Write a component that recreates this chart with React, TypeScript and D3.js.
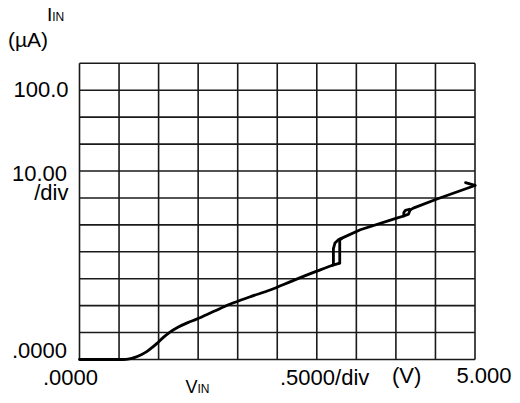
import React from "react";
import * as d3 from "d3";

// X: input voltage (V), Y: input current (µA)
const xTicks = [0, 0.5, 1, 1.5, 2, 2.5, 3, 3.5, 4, 4.5, 5];
const yTicks = [0, 10, 20, 30, 40, 50, 60, 70, 80, 90, 100, 110];

// lower branch of the sweep (smooth)
const lowerV = [0, 0.3, 0.55, 0.63, 0.7, 0.78, 0.85, 0.92, 0.98, 1.06, 1.14, 1.25, 1.37, 1.48, 1.7, 1.9, 2.15, 2.41, 2.7, 3.0, 3.2, 3.29];
const lowerI = [0, 0, 0, 0.2, 0.8, 1.8, 2.9, 4.5, 6.0, 8.2, 10.1, 12.1, 13.7, 15.0, 17.9, 20.5, 23.2, 25.8, 29.3, 32.8, 35.0, 35.8];

// jump and upper branch
const upperV = [3.29, 3.29, 3.55, 4.01, 4.1, 4.16, 4.18, 4.22, 4.52, 5.0];
const upperI = [35.8, 44.7, 48.2, 52.5, 53.3, 54.0, 55.5, 56.2, 59.6, 64.6];

// return branch of the large hysteresis loop
const loopV = [3.2, 3.21, 3.21, 3.23, 3.27, 3.31];
const loopI = [35.0, 35.2, 41.2, 43.3, 44.4, 44.8];

// return branch of the small hysteresis loop
const smallLoopV = [4.1, 4.1, 4.12, 4.17];
const smallLoopI = [53.3, 54.6, 55.4, 55.8];

// arrow barb at end of sweep
const barbV = [4.88, 5.0];
const barbI = [65.7, 64.7];

const W = 520;
const H = 403;

export default function App() {
  const x = d3.scaleLinear().domain([0, 5]).range([79.5, 475]);
  const y = d3.scaleLinear().domain([0, 110]).range([359.5, 63.3]);
  const line = d3
    .line<[number, number]>()
    .x((d) => x(d[0]))
    .y((d) => y(d[1]));
  const smooth = d3
    .line<[number, number]>()
    .x((d) => x(d[0]))
    .y((d) => y(d[1]))
    .curve(d3.curveMonotoneX);
  const zip = (a: number[], b: number[]) => a.map((v, i) => [v, b[i]] as [number, number]);

  const font = "'Liberation Sans', Arial, Helvetica, sans-serif";
  const gridColor = "#1a1a1a";

  return (
    <svg
      width={W}
      height={H}
      style={{ position: "absolute", left: 0, top: 0, background: "#fff" }}
      fontFamily={font}
    >
      <g>
        {xTicks.map((t) => (
          <line key={"x" + t} x1={x(t)} x2={x(t)} y1={y(0)} y2={y(110)} stroke={gridColor} strokeWidth={1.6} />
        ))}
        {yTicks.map((t) => (
          <line key={"y" + t} x1={x(0)} x2={x(5)} y1={y(t)} y2={y(t)} stroke={gridColor} strokeWidth={1.6} />
        ))}
      </g>
      <g fill="none" stroke="#000" strokeWidth={2.8} strokeLinejoin="round" strokeLinecap="round">
        <path d={smooth(zip(lowerV, lowerI)) || ""} />
        <path d={line(zip(upperV, upperI)) || ""} />
        <path d={line(zip(loopV, loopI)) || ""} />
        <path d={line(zip(smallLoopV, smallLoopI)) || ""} />
        <path d={line(zip(barbV, barbI)) || ""} />
      </g>
      <g fill="#000">
        <text x={47} y={21}>
          <tspan fontSize={19}>I</tspan>
          <tspan fontSize={12}>IN</tspan>
        </text>
        <text x={8} y={47} fontSize={21}>(µA)</text>
        <text x={68.5} y={97} fontSize={22} textAnchor="end">100.0</text>
        <text x={67} y={180.5} fontSize={22} textAnchor="end">10.00</text>
        <text x={68.5} y={200} fontSize={22} textAnchor="end">/div</text>
        <text x={67} y={358} fontSize={22} textAnchor="end">.0000</text>
        <text x={43} y={385} fontSize={22}>.0000</text>
        <text x={185.5} y={393}>
          <tspan fontSize={18}>V</tspan>
          <tspan fontSize={12}>IN</tspan>
        </text>
        <text x={280} y={385} fontSize={22}>.5000/div</text>
        <text x={392} y={383} fontSize={22}>(V)</text>
        <text x={456.5} y={383} fontSize={22}>5.000</text>
      </g>
    </svg>
  );
}
